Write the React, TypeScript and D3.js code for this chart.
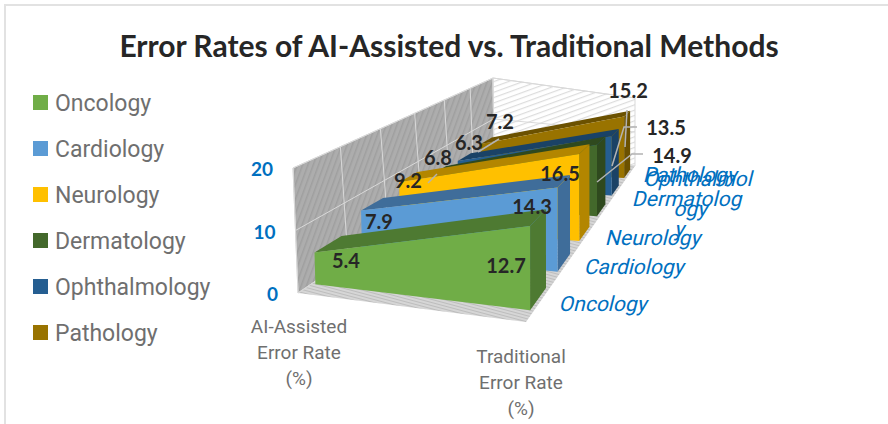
import React from "react";
import * as d3 from "d3";

const metrics = ["AI-Assisted Error Rate (%)", "Traditional Error Rate (%)"];
const categories = ["Oncology", "Cardiology", "Neurology", "Dermatology", "Ophthalmology", "Pathology"];
const aiValues = [5.4, 7.9, 9.2, 6.8, 6.3, 7.2];
const tradValues = [12.7, 14.3, 16.5, 14.9, 13.5, 15.2];
const valueTicks = [0, 10, 20];
const faceColors = ["#70AD47", "#5B9BD5", "#FFC000", "#43682B", "#255E91", "#997300"];
const shadeColors = ["#4E7A32", "#3F6D9A", "#B38600", "#2F491E", "#1A4266", "#6B5100"];

// camera: floor and ceiling (value 20) planes given by their corners, FL FR BR BL
type P = [number, number];
const floorQuad: P[] = [[298, 293], [526, 322], [635, 166], [494, 160]];
const ceilQuad: P[] = [[293, 168], [522, 192], [635, 98], [493, 78]];
const heightAtUnitDepth = 121;

function homography(q: P[]) {
  const [[x0, y0], [x1, y1], [x2, y2], [x3, y3]] = q;
  const dx1 = x1 - x2, dx2 = x3 - x2, sx = x0 - x1 + x2 - x3;
  const dy1 = y1 - y2, dy2 = y3 - y2, sy = y0 - y1 + y2 - y3;
  const den = dx1 * dy2 - dx2 * dy1;
  const g = (sx * dy2 - dx2 * sy) / den;
  const h = (dx1 * sy - sx * dy1) / den;
  const a = x1 - x0 + g * x1, b = x3 - x0 + h * x3;
  const d = y1 - y0 + g * y1, e = y3 - y0 + h * y3;
  const map = (u: number, w: number): P => {
    const k = g * u + h * w + 1;
    return [(a * u + b * w + x0) / k, (d * u + e * w + y0) / k];
  };
  return Object.assign(map, { depth: (u: number, w: number) => g * u + h * w + 1 });
}
const floorAt = homography(floorQuad);
const ceilAt = homography(ceilQuad);

const yScale = d3.scaleLinear().domain([0, 20]).range([0, 1]);
const uScale = d3.scalePoint<string>().domain(metrics).range([0.02, 0.985]);
const wScale = d3.scaleBand<string>().domain(categories).range([0, 1]).paddingInner(0.45).paddingOuter(0.25);

// wall lattice: between the drawn floor and ceiling corners
function wallPt(u: number, v: number, w: number): P {
  const f = floorAt(u, w), c = ceilAt(u, w), t = yScale(v);
  return [f[0] + (c[0] - f[0]) * t, f[1] + (c[1] - f[1]) * t];
}
// bars: true perspective, height falls with depth
function project(u: number, v: number, w: number): P {
  const f = floorAt(u, w);
  const h = (heightAtUnitDepth / floorAt.depth(u, w)) * yScale(v);
  return [f[0] - 0.03 * (1 - u) * (1 - w) * h, f[1] - h];
}
const poly = (pts: P[]) => d3.line()(pts)! + "Z";

const labelFont = "Lato, 'Open Sans', sans-serif";
const narrowFont = "Roboto, sans-serif";
const blue = "#0070C0";

// manual label layout, as placed in the source chart
const aiLabelAt: P[] = [[346, 261], [379, 222], [408, 181], [438, 158], [469, 143], [500, 122]];
const tradLabelAt: P[] = [[506, 266], [532, 207], [560, 174], [672, 156], [666, 128], [628, 91]];
const leaders: P[][] = [
  [[428, 183], [437, 174]],
  [[478, 152], [499, 139]],
  [[627, 110], [625, 147]],
  [[637, 127], [624, 127], [612, 166]],
  [[643, 154], [632, 154], [597, 182]],
];
const seriesLabelAt: { lines: string[]; x: number; y: number }[] = [
  { lines: ["Oncology"], x: 604, y: 305 },
  { lines: ["Cardiology"], x: 635, y: 268 },
  { lines: ["Neurology"], x: 654, y: 239 },
  { lines: ["Dermatolog", "y"], x: 688, y: 200 },
  { lines: ["Ophthalmol", "ogy"], x: 699, y: 180 },
  { lines: ["Pathology"], x: 691, y: 176 },
];

export default function App() {
  const [uA, uB] = [uScale(metrics[0])!, uScale(metrics[1])!];
  const bw = wScale.bandwidth();
  const wallV = d3.range(0, 7).map((i) => i / 6);
  return (
    <svg width={888} height={424} style={{ position: "absolute", left: 0, top: 0, background: "#fff" }}>
      <defs>
        <pattern id="hWall" width="5" height="5" patternUnits="userSpaceOnUse" patternTransform="rotate(20)">
          <rect width="5" height="5" fill="#adadad" />
          <rect width="1.5" height="5" fill="#9f9f9f" />
        </pattern>
        <pattern id="hBack" width="5" height="5" patternUnits="userSpaceOnUse" patternTransform="rotate(-20)">
          <rect width="5" height="5" fill="#ffffff" />
          <rect width="5" height="1.2" fill="#dcdcdc" />
        </pattern>
        <pattern id="hFloor" width="3" height="3" patternUnits="userSpaceOnUse" patternTransform="rotate(15)">
          <rect width="3" height="3" fill="#d6d6d6" />
          <rect width="3" height="1" fill="#bdbdbd" />
        </pattern>
      </defs>
      <path d="M5,424V5H888" fill="none" stroke="#e2e2e2" strokeWidth={2} />
      <text x={449} y={57} textAnchor="middle" fontFamily={labelFont} fontWeight={700} fontSize={30} fill="#262626">
        Error Rates of AI-Assisted vs. Traditional Methods
      </text>

      {categories.map((c, i) => (
        <g key={c}>
          <rect x={33} y={95 + i * 46} width={15} height={15} fill={faceColors[i]} />
          <text x={55} y={111 + i * 46} fontFamily={narrowFont} fontSize={23} fill="#6f6f6f">{c}</text>
        </g>
      ))}

      {/* walls */}
      <path d={poly([wallPt(0, 0, 0), wallPt(0, 20, 0), wallPt(0, 20, 1), wallPt(0, 0, 1)])} fill="url(#hWall)" stroke="#d9d9d9" />
      <path d={poly([wallPt(0, 0, 1), wallPt(0, 20, 1), wallPt(1, 20, 1), wallPt(1, 0, 1)])} fill="url(#hBack)" stroke="#d9d9d9" />
      <path d={poly([wallPt(0, 0, 0), wallPt(1, 0, 0), wallPt(1, 0, 1), wallPt(0, 0, 1)])} fill="url(#hFloor)" />
      {wallV.map((w) => (
        <line key={w} x1={wallPt(0, 0, w)[0]} y1={wallPt(0, 0, w)[1]} x2={wallPt(0, 20, w)[0]} y2={wallPt(0, 20, w)[1]} stroke="#d9d9d9" />
      ))}
      {valueTicks.map((v) => (
        <path key={v} d={d3.line()([wallPt(0, v, 0), wallPt(0, v, 1), wallPt(1, v, 1)])!} fill="none" stroke="#d9d9d9" />
      ))}

      {/* wedges, back to front */}
      {d3.range(categories.length - 1, -1, -1).map((i) => {
        const w0 = wScale(categories[i])!, w1 = w0 + bw;
        const a = aiValues[i], b = tradValues[i];
        return (
          <g key={categories[i]}>
            <path d={poly([project(uB, 0, w0), project(uB, 0, w1), project(uB, b, w1), project(uB, b, w0)])} fill={shadeColors[i]} />
            <path d={poly([project(uA, a, w0), project(uB, b, w0), project(uB, b, w1), project(uA, a, w1)])} fill={shadeColors[i]} />
            <path d={poly([project(uA, 0, w0), project(uB, 0, w0), project(uB, b, w0), project(uA, a, w0)])} fill={faceColors[i]} />
          </g>
        );
      })}

      {leaders.map((l, i) => (
        <path key={i} d={d3.line()(l)!} fill="none" stroke="#b3b3b3" strokeWidth={1.5} />
      ))}
      {aiValues.map((v, i) => (
        <text key={i} x={aiLabelAt[i][0]} y={aiLabelAt[i][1] + 7} textAnchor="middle" fontFamily={labelFont} fontWeight={700} fontSize={20} fill="#262626">{v.toFixed(1)}</text>
      ))}
      {tradValues.map((v, i) => (
        <text key={i} x={tradLabelAt[i][0]} y={tradLabelAt[i][1] + 7} textAnchor="middle" fontFamily={labelFont} fontWeight={700} fontSize={20} fill="#262626">{v.toFixed(1)}</text>
      ))}

      {valueTicks.map((v) => {
        const [x, y] = wallPt(0, v, 0);
        return (
          <text key={v} x={x - 20} y={y + 8} textAnchor="end" fontFamily={labelFont} fontWeight={700} fontSize={19} fill={blue}>{v}</text>
        );
      })}

      {seriesLabelAt.map((s) => (
        <text key={s.lines[0]} transform={`translate(${s.x},${s.y}) skewX(-14)`} textAnchor="middle" fontFamily={narrowFont} fontSize={21} fill={blue}>
          {s.lines.map((l, i) => (
            <tspan key={i} x={0} dy={i === 0 ? 6 : 30}>{l}</tspan>
          ))}
        </text>
      ))}

      <text textAnchor="middle" fontFamily={narrowFont} fontSize={19} fill="#6f6f6f">
        <tspan x={299} y={333}>AI-Assisted</tspan>
        <tspan x={299} y={359}>Error Rate</tspan>
        <tspan x={299} y={385}>(%)</tspan>
      </text>
      <text textAnchor="middle" fontFamily={narrowFont} fontSize={19} fill="#6f6f6f">
        <tspan x={521} y={363}>Traditional</tspan>
        <tspan x={521} y={389}>Error Rate</tspan>
        <tspan x={521} y={415}>(%)</tspan>
      </text>
    </svg>
  );
}
